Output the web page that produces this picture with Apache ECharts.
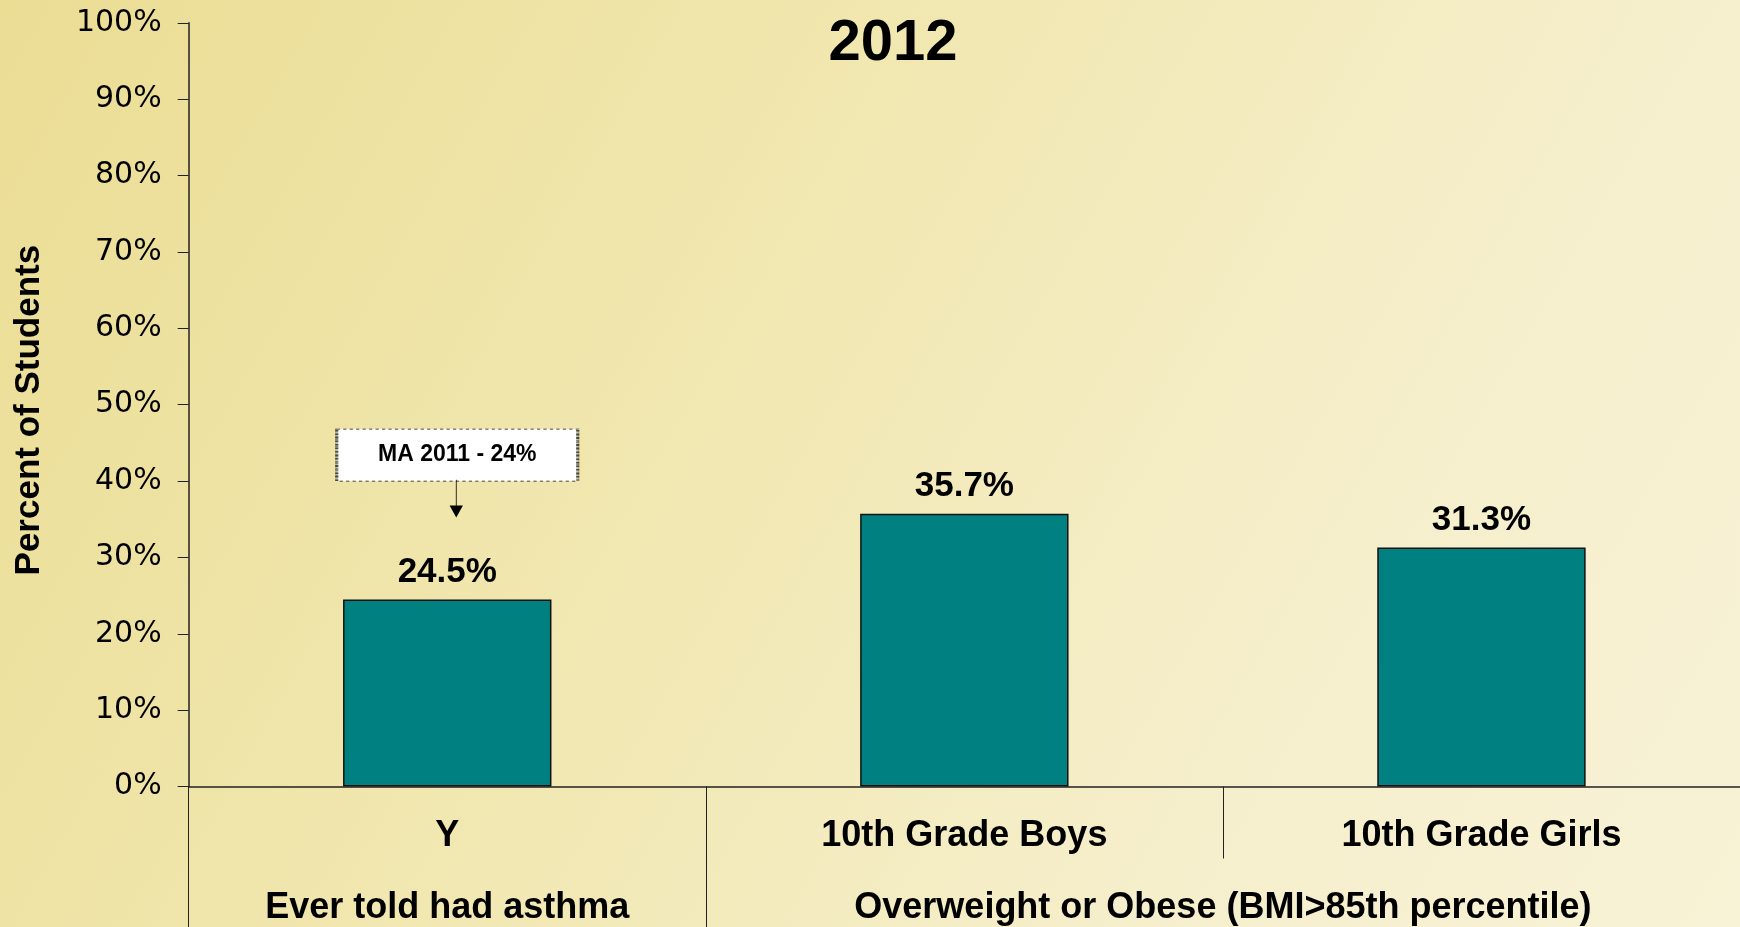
<!DOCTYPE html>
<html><head><meta charset="utf-8">
<script src="https://cdn.jsdelivr.net/npm/echarts@6/dist/echarts.min.js"></script>
<style>
html,body{margin:0;padding:0;}
#c{width:1740px;height:927px;background:linear-gradient(120deg,#ebdd94 0%,#f1e7b0 40%,#f6efcd 75%,#f8f2d6 100%);}
</style></head><body>
<div id="c"></div>
<script>
const titleText = '2012';
const categories = ['Y', '10th Grade Boys', '10th Grade Girls'];
const values = [24.5, 35.7, 31.3];
const groupNames = ['Ever told had asthma', 'Overweight or Obese (BMI>85th percentile)'];
const groupSpans = [1, 2];
const yTicks = [0, 10, 20, 30, 40, 50, 60, 70, 80, 90, 100];
const yAxisName = 'Percent of Students';
const noteText = 'MA 2011 - 24%';
const noteValue = 24;

const groupCenters = [], groupBounds = [0];
let acc = 0;
groupSpans.forEach(s => { groupCenters.push(acc + s / 2); acc += s; groupBounds.push(acc); });

const chart = echarts.init(document.getElementById('c'), null, {renderer: 'canvas'});
const F = 'Liberation Sans, Arial, sans-serif';
chart.setOption({
  backgroundColor: 'transparent',
  animation: false,
  title: {
    text: titleText, left: 888, top: 10, textAlign: 'center',
    textStyle: {fontFamily: F, fontWeight: 'bold', fontSize: 58, color: '#000'}
  },
  grid: {left: 188.7, right: -4.5, top: 22.8, bottom: 140.5, containLabel: false},
  xAxis: [{
    type: 'category', data: categories, position: 'bottom',
    axisLine: {lineStyle: {color: '#222', width: 1.5}},
    axisTick: {show: true, alignWithLabel: false, length: 72, lineStyle: {color: '#222', width: 1}},
    axisLabel: {margin: 32, fontFamily: F, fontWeight: 'bold', fontSize: 36, color: '#000'}
  }, {
    type: 'value', min: 0, max: categories.length, position: 'bottom',
    axisLine: {show: false},
    splitLine: {show: false},
    axisTick: {show: true, customValues: groupBounds.slice(0, -1), length: 145, lineStyle: {color: '#222', width: 1}},
    axisLabel: {
      customValues: groupCenters, margin: 104,
      formatter: v => { const i = groupCenters.findIndex(c => Math.abs(c - v) < 1e-6); return i >= 0 ? groupNames[i] : ''; },
      fontFamily: F, fontWeight: 'bold', fontSize: 36, color: '#000'
    }
  }],
  yAxis: {
    type: 'value', min: 0, max: 100, interval: 10,
    name: yAxisName, nameLocation: 'middle', nameGap: 142, nameRotate: 90,
    nameTextStyle: {fontFamily: F, fontWeight: 'bold', fontSize: 35, color: '#000', padding: [0, 11, 0, 0]},
    axisLine: {show: true, lineStyle: {color: '#222', width: 1.5}},
    axisTick: {show: true, length: 11, lineStyle: {color: '#222'}},
    splitLine: {show: false},
    axisLabel: {margin: 27, formatter: '{value}%', fontFamily: 'DejaVu Sans, sans-serif', fontSize: 30, color: '#000',
      customValues: yTicks}
  },
  series: [{
    type: 'bar', data: values, barWidth: '40.3%', xAxisIndex: 0,
    itemStyle: {color: '#008080', borderColor: '#111', borderWidth: 1.5},
    label: {show: true, position: 'top', distance: 10, formatter: p => p.value.toFixed(1) + '%',
      fontFamily: F, fontWeight: 'bold', fontSize: 35, color: '#000'},
    markPoint: {
      silent: true,
      data: [{
        coord: [0, 43.4], symbol: 'rect', symbolSize: [241, 52], symbolOffset: [10, 0],
        value: noteValue,
        itemStyle: {color: '#ffffff', borderColor: '#111', borderWidth: 1.5, borderType: 'dotted'},
        label: {show: true, position: 'inside', formatter: noteText,
          fontFamily: F, fontWeight: 'bold', fontSize: 23, color: '#000'}
      }, {
        coord: [0, 37.8], symbol: 'path://M5,0 L5,28 M1,27 L9,27 L5,36 Z', symbolSize: [10, 36],
        symbolOffset: [9, 0], symbolKeepAspect: false,
        itemStyle: {color: '#000', borderColor: '#000', borderWidth: 1.5},
        label: {show: false}
      }]
    }
  }]
});
</script></body></html>
